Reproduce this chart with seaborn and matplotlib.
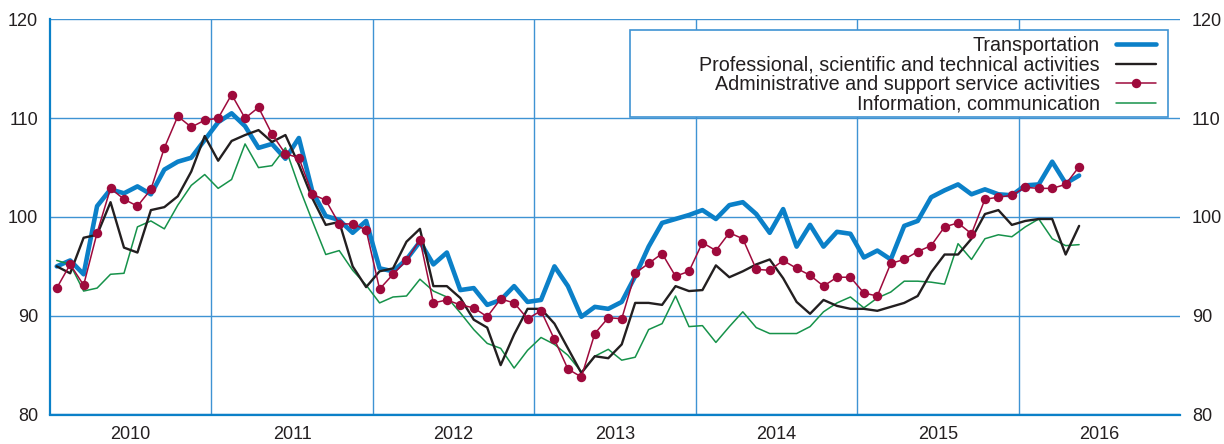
import numpy as np
import pandas as pd
import matplotlib
matplotlib.use("Agg")
import matplotlib.pyplot as plt
from matplotlib.patches import Rectangle
import seaborn as sns

# monthly index values, Jan 2010 .. May 2016
transport = [95.0, 95.6, 94.2, 101.1, 102.8, 102.4, 103.1, 102.3, 104.8, 105.6, 106.0, 107.8,
             109.6, 110.5, 109.2, 107.0, 107.4, 105.9, 108.0, 102.6, 100.1, 99.7, 98.4, 99.6,
             94.8, 94.5, 95.7, 97.5, 95.2, 96.4, 92.6, 92.8, 91.1, 91.6, 93.0, 91.4,
             91.6, 95.0, 93.0, 89.9, 90.9, 90.7, 91.4, 94.0, 97.0, 99.4, 99.8, 100.2,
             100.7, 99.8, 101.2, 101.5, 100.3, 98.4, 100.8, 97.0, 99.2, 97.0, 98.5, 98.3,
             95.9, 96.6, 95.7, 99.1, 99.6, 102.0, 102.7, 103.3, 102.3, 102.8, 102.3, 102.2,
             103.2, 103.3, 105.6, 103.4, 104.2]
professional = [95.0, 94.3, 97.9, 98.2, 101.5, 96.9, 96.4, 100.7, 101.0, 102.1, 104.6, 108.2,
                105.7, 107.7, 108.3, 108.8, 107.6, 108.3, 105.3, 101.9, 99.2, 99.5, 95.0, 92.9,
                94.5, 94.8, 97.5, 98.8, 93.0, 93.0, 91.8, 89.6, 88.8, 85.0, 88.1, 90.7,
                90.7, 89.2, 86.7, 84.2, 85.9, 85.7, 87.1, 91.3, 91.3, 91.1, 93.0, 92.5,
                92.6, 95.1, 93.9, 94.5, 95.2, 95.7, 93.8, 91.4, 90.2, 91.6, 91.0, 90.7,
                90.7, 90.5, 90.9, 91.3, 92.0, 94.4, 96.2, 96.2, 97.8, 100.3, 100.7, 99.2,
                99.6, 99.8, 99.8, 96.2, 99.1]
administrative = [92.8, 95.2, 93.1, 98.4, 102.9, 101.8, 101.1, 102.8, 107.0, 110.2, 109.1, 109.8,
                  110.0, 112.4, 110.0, 111.1, 108.4, 106.4, 106.0, 102.3, 101.7, 99.3, 99.3, 98.7,
                  92.7, 94.2, 95.6, 97.7, 91.3, 91.6, 91.1, 90.8, 89.9, 91.7, 91.3, 89.7,
                  90.5, 87.6, 84.6, 83.8, 88.2, 89.8, 89.7, 94.3, 95.3, 96.3, 94.0, 94.5,
                  97.4, 96.6, 98.4, 97.8, 94.7, 94.6, 95.6, 94.8, 94.1, 93.0, 93.9, 93.9,
                  92.3, 92.0, 95.3, 95.7, 96.5, 97.1, 99.0, 99.4, 98.3, 101.8, 102.0, 102.2,
                  103.0, 102.9, 102.9, 103.3, 105.1]
information = [95.6, 95.2, 92.5, 92.8, 94.2, 94.3, 99.0, 99.6, 98.8, 101.2, 103.2, 104.3,
               102.9, 103.8, 107.4, 105.0, 105.2, 107.0, 103.1, 99.6, 96.2, 96.6, 94.6, 93.1,
               91.3, 91.9, 92.0, 93.7, 92.5, 91.9, 90.3, 88.6, 87.2, 86.7, 84.7, 86.5,
               87.8, 87.1, 86.0, 84.3, 85.9, 86.6, 85.5, 85.8, 88.6, 89.2, 92.0, 88.9,
               89.0, 87.3, 88.9, 90.4, 88.8, 88.2, 88.2, 88.2, 88.9, 90.4, 91.3, 91.9,
               90.8, 91.8, 92.4, 93.5, 93.5, 93.4, 93.2, 97.3, 95.7, 97.8, 98.2, 98.0,
               99.0, 99.8, 97.8, 97.1, 97.2]

labels = ["Transportation",
          "Professional, scientific and technical activities",
          "Administrative and support service activities",
          "Information, communication"]
years = [2010, 2011, 2012, 2013, 2014, 2015, 2016]

# month centres as fractional years
months = pd.date_range("2010-01-01", periods=len(transport), freq="MS")
x = months.year + (months.month - 0.5) / 12

BLUE = "#0B80C8"
GRID = "#3F93D3"
RED = "#9E0A3C"
GREEN = "#16924A"
BLACK = "#231F20"

sns.set_theme(style="white")
plt.rcParams["font.family"] = ["Liberation Sans", "DejaVu Sans"]

fig = plt.figure(figsize=(12.24, 4.44), dpi=100)
ax = fig.add_axes([50 / 1224, 29.5 / 444, 1130 / 1224, 395 / 444])

sns.lineplot(x=x, y=transport, color=BLUE, linewidth=3.3, label=labels[0], ax=ax, zorder=3)
sns.lineplot(x=x, y=information, color=GREEN, linewidth=1.1, label=labels[3], ax=ax, zorder=3.5)
sns.lineplot(x=x, y=professional, color=BLACK, linewidth=1.7, label=labels[1], ax=ax, zorder=4)
sns.lineplot(x=x, y=administrative, color=RED, linewidth=1.1, marker="o", markersize=6.8,
             markeredgewidth=0, label=labels[2], ax=ax, zorder=5)

ax.set_xlim(2010, 2017)
ax.set_ylim(80, 120)
ax.set_xticks([y + 0.5 for y in years])
ax.set_xticklabels([str(y) for y in years])
ax.set_xticks(years[1:], minor=True)
ax.set_yticks([80, 90, 100, 110, 120])
ax.grid(False)
ax.grid(which="minor", axis="x", color=GRID, linewidth=1.0)
ax.grid(which="major", axis="y", color=GRID, linewidth=1.0)
ax.set_axisbelow(True)

ax.tick_params(axis="both", which="both", length=0, labelsize=13, colors=BLACK)
ax.tick_params(axis="y", labelright=True, pad=8.5)
ax.tick_params(axis="x", pad=8)
ax.set_xlabel("")
ax.set_ylabel("")

for side in ["top", "right"]:
    ax.spines[side].set_visible(False)
for side in ["left", "bottom"]:
    ax.spines[side].set_color(BLUE)
    ax.spines[side].set_linewidth(1.6)

# legend box with right-aligned labels
ax.add_patch(Rectangle((0.5133, 0.7537), 0.4761, 0.2200, transform=ax.transAxes,
                       facecolor="white", edgecolor=GRID, linewidth=1.2, zorder=6))
handles, labs = ax.get_legend_handles_labels()
order = [labs.index(l) for l in labels]
leg = ax.legend([handles[i] for i in order], [labs[i] for i in order],
                loc="upper right", bbox_to_anchor=(0.982, 0.968), frameon=False,
                markerfirst=False, fontsize=14.2, handlelength=2.0, handletextpad=0.85,
                labelspacing=0.03, borderpad=0.2, borderaxespad=0)
leg.set_zorder(7)
for t in leg.get_texts():
    t.set_color(BLACK)

fig.savefig("out.png", dpi=100)
